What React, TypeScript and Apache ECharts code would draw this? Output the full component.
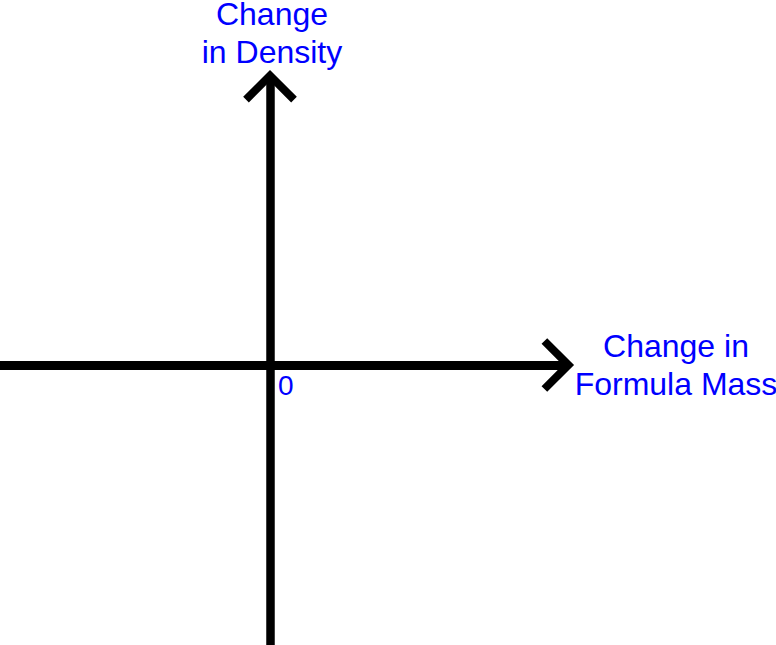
import React, { useEffect, useRef } from "react";
import * as echarts from "echarts";

// Axis extents (data units)
const xExtent = [-270, 296];
const yExtent = [-280, 287];
const origin = [0, 0];
// Labels
const xAxisTitle = "Change in\nFormula Mass";
const yAxisTitle = "Change\nin Density";
const originLabel = "0";

const BLUE = "#0000ff";
const FONT = "'Liberation Sans', Arial, Helvetica, sans-serif";
const CHEVRON =
  "path://M26.83 0 L53.66 26.83 L48 32.49 L26.83 11.31 L5.66 32.49 L0 26.83 Z";

export default function App() {
  const ref = useRef<HTMLDivElement>(null);
  useEffect(() => {
    if (!ref.current) return;
    const chart = echarts.init(ref.current, undefined, { renderer: "svg" });
    chart.setOption({
      animation: false,
      backgroundColor: "#ffffff",
      grid: { left: 0, right: 210, top: 78, bottom: 0, outerBoundsMode: "none" },
      xAxis: {
        type: "value",
        min: xExtent[0],
        max: xExtent[1],
        name: xAxisTitle,
        nameLocation: "end",
        nameGap: 110,
        nameTextStyle: {
          color: BLUE,
          fontSize: 32,
          lineHeight: 38,
          fontFamily: FONT,
          align: "center",
          verticalAlign: "middle",
        },
        axisLine: {
          onZero: true,
          symbol: ["none", CHEVRON],
          symbolSize: [53.66, 32.49],
          symbolOffset: [0, -8.2],
          lineStyle: { color: "#000", width: 9 },
        },
        axisTick: { show: false },
        splitLine: { show: false },
        axisLabel: { show: false },
      },
      yAxis: {
        type: "value",
        min: yExtent[0],
        max: yExtent[1],
        name: yAxisTitle,
        nameLocation: "end",
        nameGap: 7,
        nameTextStyle: {
          color: BLUE,
          fontSize: 32,
          lineHeight: 38,
          fontFamily: FONT,
          align: "center",
          padding: [0, 0, 0, 4],
        },
        axisLine: {
          onZero: true,
          symbol: ["none", CHEVRON],
          symbolSize: [53.66, 32.49],
          symbolOffset: [0, -8.2],
          lineStyle: { color: "#000", width: 8.5 },
        },
        axisTick: { show: false },
        splitLine: { show: false },
        axisLabel: { show: false },
      },
      series: [],
    });
    const p = chart.convertToPixel({ gridIndex: 0 }, origin) as number[];
    chart.setOption({
      graphic: [
        {
          type: "text",
          x: p[0] + 8,
          y: p[1] + 6,
          style: {
            text: originLabel,
            fill: BLUE,
            font: `28px ${FONT}`,
            textAlign: "left",
            textVerticalAlign: "top",
          },
        },
      ],
    });
    return () => chart.dispose();
  }, []);
  return (
    <div
      ref={ref}
      style={{ position: "fixed", left: 0, top: 0, width: 776, height: 645, background: "#fff" }}
    />
  );
}
